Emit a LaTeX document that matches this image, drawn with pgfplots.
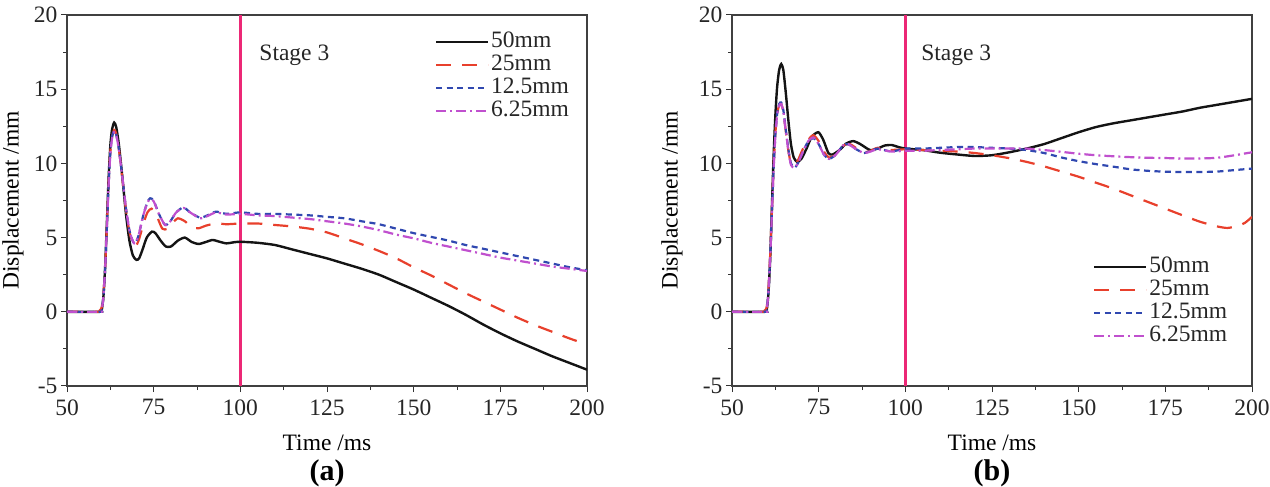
\documentclass[border=0pt]{standalone}
\usepackage{pgfplots}
\pgfplotsset{compat=1.18}
\usepackage{fontspec}
\setmainfont{Liberation Serif}

\definecolor{cBlack}{RGB}{20,20,20}
\definecolor{cRed}{RGB}{232,64,44}
\definecolor{cBlue}{RGB}{48,72,176}
\definecolor{cMag}{RGB}{192,80,206}
\definecolor{cStage}{RGB}{236,40,118}

\newcommand{\figfont}{\fontsize{23.5bp}{26bp}\selectfont}

\pgfplotsset{
  panel/.style={
    scale only axis, width=520bp, height=371bp,
    anchor=south west,
    xmin=50, xmax=200, ymin=-5, ymax=20,
    xtick={50,75,...,200}, ytick={-5,0,...,20},
    minor x tick num=1, minor y tick num=1,
    xtick pos=bottom, ytick pos=left,
    tick align=outside,
    major tick length=6bp, minor tick length=4bp,
    every tick/.style={black!80, line width=1bp},
    axis line style={black!75, line width=1.3bp},
    /pgf/number format/assume math mode=true,
    font=\figfont,
    tick label style={font=\figfont, text=black!85},
    xticklabel style={yshift=-4bp},
    label style={font=\figfont, text=black!85},
    every axis x label/.style={at={(axis description cs:0.5,0)}, yshift=-57bp, anchor=center},
    xlabel={Time /ms},
    ylabel={Displacement /mm},
    legend cell align=left,
    legend style={draw=none, fill=none, inner sep=0pt,
      font=\figfont, text=black!85, row sep=0pt,
      nodes={text height=15bp, text depth=4bp, inner ysep=2bp, inner xsep=2bp}},
    legend image code/.code={\path (0bp,0bp) -- (52bp,0bp);\draw[#1] (0bp,0bp) -- (44bp,0bp);},
    every axis plot/.append style={smooth, tension=0.4},
  },
  s50/.style={cBlack, line width=2.4bp},
  s25/.style={cRed, line width=2.2bp, dash pattern=on 15bp off 11bp},
  s125/.style={cBlue, line width=2.2bp, dash pattern=on 6bp off 4.5bp},
  s625/.style={cMag, line width=2.2bp, dash pattern=on 10bp off 4bp on 2bp off 4bp},
  stage/.style={cStage, line width=2.6bp, forget plot},
}

\begin{document}
\begin{tikzpicture}
\path[use as bounding box] (0,0) rectangle (1270bp,487bp);

% ---------------- panel (a) ----------------
\begin{axis}[panel, at={(67bp,101bp)},
  every axis y label/.style={at={(axis description cs:0,0.5)}, xshift=-54bp, rotate=90, anchor=center},
  legend style={at={(rel axis cs:0.707,0.958)}, anchor=north west}]
\addplot[stage, sharp plot] coordinates {(100,-5) (100,20)};
\addplot[s50] coordinates {
(50,0) (59.5,0) (60,0.1) (60.5,1) (61,3) (61.5,6) (62,9) (62.5,11.2) (63,12.3)
(63.6,12.75) (64.2,12.45) (65,11.2) (66,9) (67,6.6) (68,4.8) (69,3.8) (70,3.5)
(70.8,3.6) (71.8,4.2) (73,5) (74.5,5.4) (75.5,5.3) (77,4.8) (78.5,4.4) (80,4.4)
(82,4.8) (84,5.0) (86,4.7) (88,4.57) (90,4.7) (92,4.84) (94,4.72) (96,4.61)
(98,4.68) (100,4.72) (105,4.65) (110,4.5) (115,4.2) (120,3.9) (125,3.6)
(130,3.25) (135,2.9) (140,2.5) (145,2.0) (150,1.5) (155,0.95) (160,0.4)
(165,-0.2) (170,-0.85) (175,-1.45) (180,-2.0) (185,-2.5) (190,-3.0) (195,-3.45)
(200,-3.9)};
\addlegendentry{50mm}
\addplot[s25] coordinates {
(50,0) (59,0) (59.5,0.1) (60,0.3) (60.5,1.2) (61,3) (61.5,5.8) (62,8.6)
(62.5,10.8) (63,11.8) (63.6,12.25) (64.2,12.0) (65,10.9) (66,8.9) (67,6.9)
(68,5.4) (69,4.6) (69.8,4.4) (70.8,4.9) (72,5.9) (73.2,6.7) (74.4,6.95)
(75.8,6.5) (77.5,5.6) (79,5.6) (80.5,6.0) (82,6.3) (84,6.1) (86,5.7) (88,5.63)
(90,5.8) (93,5.96) (96,5.9) (100,5.95) (105,5.95) (110,5.85) (115,5.75)
(120,5.6) (125,5.35) (130,4.95) (135,4.55) (140,4.1) (145,3.6) (150,3.0)
(155,2.45) (160,1.85) (165,1.25) (170,0.7) (175,0.15) (180,-0.4) (185,-0.9)
(190,-1.35) (195,-1.8) (200,-2.2)};
\addlegendentry{25mm}
\addplot[s125] coordinates {
(50,0) (59.5,0) (60,0.1) (60.5,1) (61,2.9) (61.5,5.6) (62,8.5) (62.5,10.7)
(63,11.8) (63.6,12.2) (64.2,11.95) (65,10.9) (66,9.0) (67,7.0) (68,5.5)
(69,4.75) (69.7,4.6) (70.7,5.2) (72,6.5) (73.2,7.4) (74,7.65) (75,7.5)
(76.5,6.6) (78.3,5.85) (79.8,6.1) (81.5,6.7) (83.6,7.04) (85.5,6.7) (88.4,6.34)
(90.5,6.5) (93,6.75) (96,6.6) (100,6.7) (105,6.6) (110,6.6) (115,6.55)
(120,6.5) (125,6.4) (130,6.3) (135,6.1) (140,5.9) (145,5.6) (150,5.3)
(155,5.05) (160,4.8) (165,4.5) (170,4.25) (175,4.0) (180,3.75) (185,3.5)
(190,3.25) (195,3.0) (200,2.8)};
\addlegendentry{12.5mm}
\addplot[s625] coordinates {
(50,0) (59.5,0) (60,0.1) (60.5,1) (61,2.9) (61.5,5.6) (62,8.5) (62.5,10.6)
(63,11.7) (63.6,12.1) (64.2,11.9) (65,10.9) (66,9.0) (67,7.0) (68,5.5)
(69,4.75) (69.7,4.6) (70.7,5.2) (72,6.5) (73.2,7.35) (74,7.6) (75,7.45)
(76.5,6.6) (78.3,5.85) (79.8,6.1) (81.5,6.7) (83.6,7.0) (85.5,6.7) (88.4,6.3)
(90.5,6.45) (93,6.7) (96,6.55) (100,6.6) (105,6.5) (110,6.45) (115,6.35)
(120,6.25) (125,6.1) (130,5.95) (135,5.75) (140,5.5) (145,5.2) (150,4.95)
(155,4.65) (160,4.4) (165,4.15) (170,3.9) (175,3.65) (180,3.45) (185,3.25)
(190,3.05) (195,2.9) (200,2.75)};
\addlegendentry{6.25mm}
\node[anchor=west, font=\figfont, text=black!85] at (axis cs:104.5,17.3) {Stage 3};
\end{axis}

% ---------------- panel (b) ----------------
\begin{axis}[panel, at={(732bp,101bp)},
  every axis y label/.style={at={(axis description cs:0,0.5)}, xshift=-60bp, rotate=90, anchor=center},
  legend style={at={(rel axis cs:0.694,0.352)}, anchor=north west}]
\addplot[stage, sharp plot] coordinates {(100,-5) (100,20)};
\addplot[s50] coordinates {
(50,0) (59.5,0) (60,0.1) (60.5,1.2) (61,3.5) (61.5,7) (62,10.5) (62.5,13.2)
(63,15.1) (63.6,16.3) (64.2,16.7) (64.8,16.3) (65.5,14.8) (66.3,12.8) (67,11.3)
(67.8,10.4) (68.8,10.1) (70,10.3) (71.5,11) (73,11.8) (74.9,12.1) (76.3,11.6)
(77.8,10.7) (79,10.6) (81,10.9) (83,11.35) (85,11.5) (87,11.3) (89.8,10.9)
(92,11.0) (94,11.2) (96.1,11.24) (98,11.1) (100,11.0) (105,10.9) (110,10.72)
(115,10.6) (120,10.5) (125,10.55) (130,10.75) (135,11.0) (140,11.3) (145,11.7)
(150,12.1) (155,12.45) (160,12.7) (165,12.9) (170,13.1) (175,13.3) (180,13.5)
(185,13.75) (190,13.95) (195,14.15) (200,14.35)};
\addlegendentry{50mm}
\addplot[s25] coordinates {
(50,0) (59,0) (59.5,0.1) (60,0.3) (60.5,1.5) (61,3.8) (61.5,6.8) (62,9.8)
(62.5,12) (63,13.3) (63.6,13.9) (64.2,14.0) (64.8,13.5) (65.5,12.2) (66.3,10.8)
(67,10.0) (67.9,9.85) (69,10.2) (70.5,11) (72,11.6) (73.5,11.9) (75,11.5)
(76.5,10.8) (78,10.4) (80,10.6) (82,11.2) (84,11.3) (86,11.0) (88,10.75)
(90,10.85) (92,11.05) (95,10.9) (100,10.95) (105,10.9) (110,10.85) (115,10.8)
(120,10.7) (125,10.55) (130,10.35) (135,10.1) (140,9.8) (145,9.45) (150,9.1)
(155,8.7) (160,8.3) (165,7.85) (170,7.4) (175,6.95) (180,6.5) (185,6.07)
(190,5.75) (193,5.65) (196,5.8) (198,6.0) (200,6.4)};
\addlegendentry{25mm}
\addplot[s125] coordinates {
(50,0) (59.5,0) (60,0.1) (60.5,1.3) (61,3.6) (61.5,6.6) (62,9.6) (62.5,11.9)
(63,13.3) (63.6,14.0) (64.2,14.1) (64.8,13.6) (65.5,12.3) (66.3,10.9) (67,10.0)
(68,9.7) (69,10.0) (70.5,10.8) (72,11.5) (73.5,11.7) (75,11.3) (76.5,10.6)
(78,10.3) (80,10.6) (82,11.2) (83.5,11.3) (85.5,11.0) (88,10.7) (90,10.85)
(92,11.0) (96,10.8) (100,11.0) (105,11.0) (110,11.05) (115,11.1) (120,11.1)
(125,11.05) (130,11.0) (135,10.9) (140,10.7) (145,10.4) (150,10.15) (155,9.95)
(160,9.78) (165,9.6) (170,9.5) (175,9.44) (180,9.42) (185,9.42) (190,9.45)
(195,9.55) (200,9.65)};
\addlegendentry{12.5mm}
\addplot[s625] coordinates {
(50,0) (59.5,0) (60,0.1) (60.5,1.3) (61,3.6) (61.5,6.6) (62,9.6) (62.5,11.8)
(63,13.2) (63.6,13.9) (64.2,14.0) (64.8,13.5) (65.5,12.2) (66.3,10.8) (67,9.9)
(68,9.7) (69,10.0) (70.5,10.8) (72,11.5) (73.5,11.75) (75,11.3) (76.5,10.6)
(78,10.3) (80,10.6) (82,11.2) (83.5,11.3) (85.5,11.0) (88,10.7) (90,10.8)
(92,10.95) (96,10.8) (100,10.85) (105,10.85) (110,10.9) (115,10.95) (120,11.0)
(125,11.0) (130,11.0) (135,11.0) (140,10.9) (145,10.78) (150,10.65) (155,10.55)
(160,10.48) (165,10.42) (170,10.38) (175,10.36) (180,10.33) (185,10.33)
(190,10.38) (195,10.55) (200,10.75)};
\addlegendentry{6.25mm}
\node[anchor=west, font=\figfont, text=black!85] at (axis cs:103.6,17.3) {Stage 3};
\end{axis}

\node[font=\fontsize{30bp}{32bp}\selectfont\bfseries, inner sep=0pt] at (327bp,14bp) {(a)};
\node[font=\fontsize{30bp}{32bp}\selectfont\bfseries, inner sep=0pt] at (992bp,14bp) {(b)};
\end{tikzpicture}
\end{document}
